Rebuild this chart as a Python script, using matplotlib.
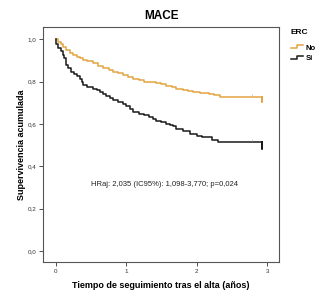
import matplotlib
matplotlib.use('Agg')
import matplotlib.pyplot as plt
from matplotlib.legend_handler import HandlerLine2D
from matplotlib.lines import Line2D

plt.rcParams['font.family'] = ['Liberation Sans', 'DejaVu Sans']

# Kaplan-Meier, grupo ERC = No
t_no = [0, 0.03, 0.07, 0.11, 0.15, 0.2, 0.25, 0.3, 0.35, 0.39, 0.45, 0.53, 0.6, 0.67,
        0.75, 0.82, 0.88, 0.95, 1.02, 1.1, 1.18, 1.25, 1.33, 1.42, 1.5, 1.57, 1.65,
        1.71, 1.8, 1.88, 1.95, 2.05, 2.12, 2.18, 2.25, 2.33, 2.93]
s_no = [1.0, 0.985, 0.975, 0.965, 0.95, 0.935, 0.925, 0.915, 0.91, 0.9, 0.895, 0.886,
        0.875, 0.862, 0.855, 0.845, 0.838, 0.83, 0.822, 0.81, 0.806, 0.8, 0.798, 0.792,
        0.787, 0.78, 0.775, 0.767, 0.762, 0.757, 0.751, 0.748, 0.745, 0.742, 0.735,
        0.727, 0.703]
# grupo ERC = Si
t_si = [0, 0.01, 0.04, 0.07, 0.1, 0.12, 0.15, 0.18, 0.22, 0.26, 0.3, 0.34, 0.37, 0.39,
        0.45, 0.53, 0.58, 0.63, 0.67, 0.72, 0.77, 0.81, 0.88, 0.95, 1.0, 1.05, 1.1,
        1.18, 1.25, 1.33, 1.38, 1.43, 1.5, 1.57, 1.62, 1.66, 1.71, 1.8, 1.9, 2.0, 2.08,
        2.14, 2.22, 2.3, 2.93]
s_si = [1.0, 0.975, 0.96, 0.945, 0.925, 0.91, 0.878, 0.862, 0.846, 0.835, 0.825, 0.814,
        0.8, 0.782, 0.775, 0.767, 0.758, 0.75, 0.743, 0.73, 0.72, 0.711, 0.703, 0.695,
        0.685, 0.671, 0.655, 0.648, 0.64, 0.632, 0.625, 0.616, 0.608, 0.6, 0.596,
        0.592, 0.576, 0.565, 0.552, 0.545, 0.54, 0.537, 0.525, 0.513, 0.481]
t_fin = 2.93
t_cens = [2.78]  # censurados visibles

xticks = [0, 1, 2, 3]
yticks = [0.0, 0.2, 0.4, 0.6, 0.8, 1.0]
ylabs = ['0,0', '0,2', '0,4', '0,6', '0,8', '1,0']

col_no = '#E3A443'
col_si = '#1a1a1a'


class StepHandler(HandlerLine2D):
    # icono en escalon como en SPSS
    def create_artists(self, legend, orig, xd, yd, w, h, fontsize, trans):
        xs = [xd, xd + w * 0.55, xd + w * 0.55, xd + w]
        ys = [h * 0.2, h * 0.2, h * 0.8, h * 0.8]
        ln = Line2D(xs, ys, color=orig.get_color(), lw=orig.get_linewidth())
        ln.set_transform(trans)
        return [ln]


fig = plt.figure(figsize=(3.32, 3.04), dpi=100)
ax = fig.add_axes([0.1295, 0.138, 0.711, 0.773])

l1, = ax.step(t_no + [t_fin], s_no + [s_no[-2]], where='post', color=col_no, lw=1.1, label='No')
l2, = ax.step(t_si + [t_fin], s_si + [s_si[-2]], where='post', color=col_si, lw=1.1, label='Si')
ax.plot(t_cens, [s_no[-2] + 0.01], '|', color='#bbbbbb', ms=2, mew=0.5)
ax.plot(t_cens, [s_si[-2] + 0.01], '|', color='#bbbbbb', ms=2, mew=0.5)

ax.set_xlim(-0.18, 3.17)
ax.set_ylim(-0.052, 1.057)
ax.set_xticks(xticks)
ax.set_xticklabels([str(x) for x in xticks])
ax.set_yticks(yticks)
ax.set_yticklabels(ylabs)
ax.tick_params(labelsize=4.5, length=3, width=0.6, colors='#333333', pad=2)
for sp in ax.spines.values():
    sp.set_color('#555555')
    sp.set_linewidth(0.8)

ax.set_title('MACE', fontsize=8.5, fontweight='bold', pad=6)
ax.set_ylabel('Supervivencia acumulada', fontsize=6.5, fontweight='bold', labelpad=1)
ax.set_xlabel('Tiempo de seguimiento tras el alta (años)', fontsize=6.5, fontweight='bold', labelpad=5)

ax.text(1.55, 0.314, 'HRaj: 2,035 (IC95%): 1,098-3,770; p=0,024', fontsize=5.5,
        ha='center', va='center', color='#222222')

leg = fig.legend(handles=[l1, l2], title='ERC', loc='upper left',
                 bbox_to_anchor=(0.875, 0.905), frameon=False, fontsize=5.5,
                 title_fontsize=6, handlelength=1.6, handletextpad=0.4,
                 labelspacing=0.45, borderaxespad=0, borderpad=0,
                 handler_map={Line2D: StepHandler()})
leg.get_title().set_fontweight('bold')
leg._legend_box.align = 'left'
leg._legend_box.sep = 6
for t in leg.get_texts():
    t.set_fontweight('bold')

fig.savefig('out.png', dpi=100)
